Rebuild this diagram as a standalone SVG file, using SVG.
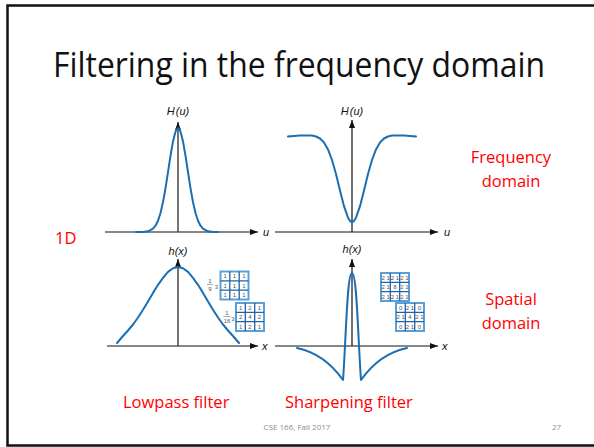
<svg xmlns="http://www.w3.org/2000/svg" width="594" height="447" viewBox="0 0 594 447">
<defs>
<marker id="arr" markerWidth="8" markerHeight="6" refX="8" refY="3" orient="auto" markerUnits="userSpaceOnUse">
<path d="M0,0 L8,3 L0,6 z" fill="#111"/>
</marker>
<style>
.slide{font-family:"Open Sans","Liberation Sans",sans-serif}
.red{fill:#ff0000;font-size:16.5px}
.ax{stroke:#111;stroke-width:1.2;fill:none}
.vax{stroke:#444;stroke-width:1.5;fill:none}
.curve{stroke:#1b6fb2;stroke-width:2;fill:none;stroke-linejoin:round;stroke-linecap:round}
.lbl{font-family:"Liberation Sans",Arial,sans-serif;font-style:italic;font-size:11px;fill:#111}
.kbox{fill:#fff;stroke:#5aa0d8;stroke-width:2}
.kline{stroke:#1e64a8;stroke-width:1.3}
.kt{font-family:"Liberation Sans",Arial,sans-serif;font-size:6px;fill:#555;text-anchor:middle}
.foot{font-size:8px;fill:#8c8c8c}
</style>
</defs>
<rect x="0" y="0" width="594" height="447" fill="#fff"/>
<rect x="7.5" y="5.5" width="600" height="440" fill="none" stroke="#111" stroke-width="2.5"/>

<text class="slide" x="53" y="77" font-size="34" fill="#111" textLength="492" lengthAdjust="spacingAndGlyphs">Filtering in the frequency domain</text>

<g id="plot-lowpass-freq">
<line class="ax" x1="105" y1="232" x2="258" y2="232" marker-end="url(#arr)"/>
<line class="vax" x1="178" y1="232" x2="178" y2="122" marker-end="url(#arr)"/>
<polyline class="curve" points="136,232 143,231.9 148,231.3 153,228.7 155.5,225.7 158,220.7 160.5,213 163,202.1 165.5,188.2 168,172.2 170.5,155.9 173,141.4 175.5,131.5 178,128 180.5,131.5 183,141.4 185.5,155.9 188,172.2 190.5,188.2 193,202.1 195.5,213 198,220.7 200.5,225.7 203,228.7 208,231.3 213,231.9 218,232"/>
<text class="lbl" x="178" y="115" text-anchor="middle">H<tspan dx="1">(</tspan>u)</text>
<text class="lbl" x="263" y="236" font-size="12">u</text>
</g>

<g id="plot-sharpen-freq">
<line class="ax" x1="275" y1="232" x2="438" y2="232" marker-end="url(#arr)"/>
<line class="ax" x1="352" y1="232" x2="352" y2="120" marker-end="url(#arr)"/>
<polyline class="curve" points="288,136.5 300,135.4 312,135.6 316,136.5 320,138.5 324,142.5 328,149.4 332,160 336,174.1 340,190.5 344,206.2 348,217.7 350,221 352,222 354,221 356,217.7 360,206.2 364,190.5 368,174.1 372,160 376,149.4 380,142.5 384,138.5 388,136.5 392,135.6 404,135.4 416,136.5"/>
<text class="lbl" x="352" y="115" text-anchor="middle">H<tspan dx="1">(</tspan>u)</text>
<text class="lbl" x="444" y="236" font-size="12">u</text>
</g>

<g id="plot-lowpass-spatial">
<line class="ax" x1="107" y1="346" x2="258" y2="346" marker-end="url(#arr)"/>
<line class="vax" x1="178" y1="346" x2="178" y2="259" marker-end="url(#arr)"/>
<polyline class="curve" points="117,343 120,339.5 123,336 128,330.5 133,324.5 138,317.5 143,309.7 148,301.5 153,292.9 158,284.8 163,277.9 168,271.9 173,268.2 178,267 183,268.2 188,271.9 193,277.9 198,284.8 203,292.9 208,301.5 213,309.7 218,317.5 223,324.5 228,330.5 233,336 236,339.5 239,343"/>
<text class="lbl" x="178" y="255" text-anchor="middle">h(x)</text>
<text class="lbl" x="262" y="350" font-size="12">x</text>
</g>

<g id="plot-sharpen-spatial">
<line class="ax" x1="275" y1="346" x2="438" y2="346" marker-end="url(#arr)"/>
<line class="ax" x1="352" y1="346" x2="352" y2="259" marker-end="url(#arr)"/>
<path class="curve" d="M297,348 C316,352 331,363 343,380 C346,340 347,273 352,273 C357,273 358,340 361,380 C373,363 388,352 407,348"/>
<text class="lbl" x="352" y="253" text-anchor="middle">h(x)</text>
<text class="lbl" x="442" y="350" font-size="12">x</text>
</g>

<g id="kernel-box">
<text class="kt" x="210" y="283">1</text>
<line x1="207" y1="284.5" x2="213" y2="284.5" stroke="#555" stroke-width="0.5"/>
<text class="kt" x="210" y="291">9</text>
<text class="kt" x="216.5" y="289">3</text>
<rect class="kbox" x="220.5" y="271.5" width="28" height="28"/>
<path class="kline" d="M229.8,271.5V299.5M239.2,271.5V299.5M220.5,280.8H248.5M220.5,290.2H248.5"/>
<text class="kt" x="225.2" y="278.3">1</text><text class="kt" x="234.5" y="278.3">1</text><text class="kt" x="243.8" y="278.3">1</text>
<text class="kt" x="225.2" y="287.6">1</text><text class="kt" x="234.5" y="287.6">1</text><text class="kt" x="243.8" y="287.6">1</text>
<text class="kt" x="225.2" y="297">1</text><text class="kt" x="234.5" y="297">1</text><text class="kt" x="243.8" y="297">1</text>
</g>

<g id="kernel-gauss">
<text class="kt" x="227" y="315">1</text>
<line x1="223.5" y1="316.5" x2="230.5" y2="316.5" stroke="#555" stroke-width="0.5"/>
<text class="kt" x="227" y="323">16</text>
<text class="kt" x="233" y="321">3</text>
<rect class="kbox" x="236" y="303" width="28" height="28"/>
<path class="kline" d="M245.3,303V331M254.7,303V331M236,312.3H264M236,321.7H264"/>
<text class="kt" x="240.7" y="309.8">1</text><text class="kt" x="250" y="309.8">2</text><text class="kt" x="259.3" y="309.8">1</text>
<text class="kt" x="240.7" y="319.1">2</text><text class="kt" x="250" y="319.1">4</text><text class="kt" x="259.3" y="319.1">2</text>
<text class="kt" x="240.7" y="328.5">1</text><text class="kt" x="250" y="328.5">2</text><text class="kt" x="259.3" y="328.5">1</text>
</g>

<g id="kernel-laplace8">
<rect class="kbox" x="381" y="273" width="28" height="28"/>
<path class="kline" d="M390.3,273V301M399.7,273V301M381,282.3H409M381,291.7H409"/>
<text class="kt" x="385.7" y="279.8">2 1</text><text class="kt" x="395" y="279.8">2 1</text><text class="kt" x="404.3" y="279.8">2 1</text>
<text class="kt" x="385.7" y="289.1">2 1</text><text class="kt" x="395" y="289.1">8</text><text class="kt" x="404.3" y="289.1">2 1</text>
<text class="kt" x="385.7" y="298.5">2 1</text><text class="kt" x="395" y="298.5">2 1</text><text class="kt" x="404.3" y="298.5">2 1</text>
</g>

<g id="kernel-laplace4">
<rect class="kbox" x="396" y="303" width="28" height="28"/>
<path class="kline" d="M405.3,303V331M414.7,303V331M396,312.3H424M396,321.7H424"/>
<text class="kt" x="400.7" y="309.8">0</text><text class="kt" x="410" y="309.8">2 1</text><text class="kt" x="419.3" y="309.8">0</text>
<text class="kt" x="400.7" y="319.1">2 1</text><text class="kt" x="410" y="319.1">4</text><text class="kt" x="419.3" y="319.1">2 1</text>
<text class="kt" x="400.7" y="328.5">0</text><text class="kt" x="410" y="328.5">2 1</text><text class="kt" x="419.3" y="328.5">0</text>
</g>

<g id="labels" class="slide">
<text class="red" x="511" y="163" text-anchor="middle">Frequency</text>
<text class="red" x="511" y="187" text-anchor="middle">domain</text>
<text class="red" x="511" y="305" text-anchor="middle">Spatial</text>
<text class="red" x="511" y="329" text-anchor="middle">domain</text>
<text class="red" x="55" y="244">1D</text>
<text class="red" x="123" y="408">Lowpass filter</text>
<text class="red" x="285" y="408">Sharpening filter</text>
<text class="foot" x="297" y="430" text-anchor="middle">CSE 166, Fall 2017</text>
<text class="foot" x="552" y="430">27</text>
</g>
</svg>
